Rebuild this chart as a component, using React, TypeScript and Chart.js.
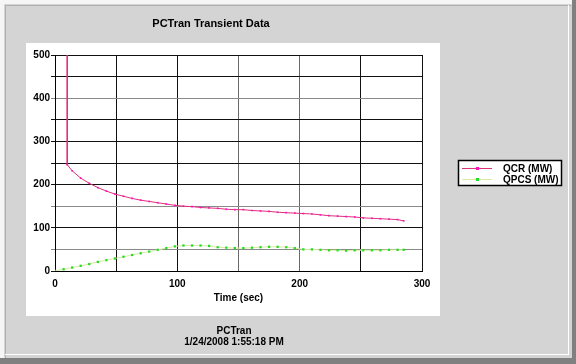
import React, { useEffect, useRef } from "react";
import { Chart, registerables } from "chart.js";

Chart.register(...registerables);

const chartTitle = "PCTran Transient Data";
const xAxisTitle = "Time (sec)";
const footerLines = ["PCTran", "1/24/2008 1:55:18 PM"];
const seriesNames = ["QCR (MW)", "QPCS (MW)"];

const qcrTime = [10, 10, 14, 21, 28, 35, 42, 49, 56, 63, 70, 77, 84, 91, 98, 105, 112, 119, 126, 133, 140, 147, 154, 161, 168, 175, 182, 189, 196, 203, 210, 217, 224, 231, 238, 245, 252, 259, 266, 273, 280, 285];
const qcrValues = [3000, 246, 232, 215, 203, 193, 185, 178, 173, 168, 164, 161, 158, 155, 152, 150, 149, 147, 146, 145, 143, 142, 142, 140, 139, 138, 136, 135, 134, 133, 132, 130, 128, 127, 126, 125, 123, 122, 121, 120, 119, 116];

const qpcsTime = [0, 7, 14, 21, 28, 35, 42, 49, 56, 63, 70, 77, 84, 91, 98, 105, 112, 119, 126, 133, 140, 147, 154, 161, 168, 175, 182, 189, 196, 203, 210, 217, 224, 231, 238, 245, 252, 259, 266, 273, 280, 285];
const qpcsValues = [0, 4, 8, 12, 16, 21, 25, 29, 33, 37, 41, 45, 49, 53, 57, 59, 59, 59, 58, 55, 54, 53, 53, 54, 55, 56, 56, 55, 53, 50, 50, 49, 48, 48, 47, 48, 48, 48, 48, 49, 49, 49];

const xTicksLabelled = [0, 100, 200, 300];
const yTicksLabelled = [0, 100, 200, 300, 400, 500];

const QCR_LINE = "#e0307a";
const QCR_POINT = "#ff10c0";
const QPCS_LINE = "#d8eca0";
const QPCS_POINT = "#22dd22";
const FONT = "'Liberation Sans', Arial, sans-serif";

const framePlugin = {
  id: "frame",
  beforeDraw(chart: any) {
    const ctx = chart.ctx;
    const W = chart.width;
    const H = chart.height;
    ctx.save();
    ctx.fillStyle = "#d4d4d4";
    ctx.fillRect(0, 0, W, H);
    ctx.fillStyle = "#f6f6f6";
    ctx.fillRect(0, 0, W, 4);
    ctx.fillRect(0, 0, 4, H);
    ctx.fillStyle = "#b0b0b0";
    ctx.fillRect(5, 5, W - 10, 1);
    ctx.fillRect(5, 5, 1, H - 10);
    ctx.fillStyle = "#ffffff";
    ctx.fillRect(568, 5, 1, 350);
    ctx.fillRect(5, 354, 564, 1);
    ctx.fillStyle = "#808080";
    ctx.fillRect(0, 358, W, H - 358);
    ctx.fillRect(572, 0, W - 572, H);
    // white chart panel
    ctx.fillStyle = "#ffffff";
    ctx.fillRect(26, 43, 414, 273);
    ctx.restore();
  },
  afterDraw(chart: any) {
    const ctx = chart.ctx;
    ctx.save();
    ctx.fillStyle = "#000";
    ctx.textAlign = "center";
    ctx.textBaseline = "middle";
    ctx.font = `bold 11px ${FONT}`;
    ctx.fillText(chartTitle, 211, 24);
    ctx.font = `bold 10px ${FONT}`;
    const area = chart.chartArea;
    ctx.fillText(xAxisTitle, (area.left + area.right) / 2, 298);
    ctx.font = `bold 10px ${FONT}`;
    ctx.fillText(footerLines[0], 234, 331);
    ctx.fillText(footerLines[1], 234, 342);

    // legend
    const lx = 458, ly = 160, lw = 103, lh = 25;
    ctx.fillStyle = "#fff";
    ctx.fillRect(lx, ly, lw, lh);
    ctx.strokeStyle = "#000";
    ctx.lineWidth = 1.5;
    ctx.strokeRect(lx + 0.5, ly + 0.5, lw, lh);
    const rows = [
      { y: 168, line: QCR_LINE, pt: QCR_POINT, name: seriesNames[0] },
      { y: 179, line: QPCS_LINE, pt: QPCS_POINT, name: seriesNames[1] },
    ];
    rows.forEach((r) => {
      ctx.strokeStyle = r.line;
      ctx.lineWidth = 1;
      ctx.beginPath();
      ctx.moveTo(462, r.y + 0.5);
      ctx.lineTo(492, r.y + 0.5);
      ctx.stroke();
      ctx.fillStyle = r.pt;
      ctx.fillRect(476, r.y - 1, 3, 3);
      ctx.fillStyle = "#000";
      ctx.textAlign = "left";
      ctx.font = `bold 10px ${FONT}`;
      ctx.fillText(r.name, 503, r.y + 1);
    });
    ctx.restore();
  },
};

export default function App() {
  const ref = useRef<HTMLCanvasElement>(null);
  useEffect(() => {
    document.body.style.margin = "0";
    const canvas = ref.current!;
    const chart = new Chart(canvas, {
      type: "line",
      data: {
        datasets: [
          {
            label: seriesNames[0],
            data: qcrTime.map((t, i) => ({ x: t, y: qcrValues[i] })),
            borderColor: QCR_LINE,
            backgroundColor: QCR_POINT,
            pointBackgroundColor: QCR_POINT,
            pointBorderColor: QCR_POINT,
            borderWidth: 1,
            pointRadius: 1.2,
            pointBorderWidth: 0,
            pointStyle: "rect",
            tension: 0,
          },
          {
            label: seriesNames[1],
            data: qpcsTime.map((t, i) => ({ x: t, y: qpcsValues[i] })),
            borderColor: QPCS_LINE,
            backgroundColor: QPCS_POINT,
            pointBackgroundColor: QPCS_POINT,
            pointBorderColor: QPCS_POINT,
            borderWidth: 1,
            pointRadius: 1.6,
            pointBorderWidth: 0,
            pointStyle: "rect",
            tension: 0,
          },
        ],
      },
      options: {
        responsive: false,
        animation: false,
        layout: { padding: { left: 26, top: 55, right: 154, bottom: 63 } },
        plugins: { legend: { display: false }, title: { display: false }, tooltip: { enabled: false } },
        scales: {
          x: {
            type: "linear",
            min: 0,
            max: 300,
            afterFit: (s: any) => { s.height = 30; },
            ticks: {
              stepSize: 50,
              padding: 7,
              color: "#000",
              font: { family: FONT, size: 10, weight: "bold" },
              callback: (v: any) => (xTicksLabelled.includes(v) ? String(v) : ""),
            },
            grid: {
              drawTicks: false,
              lineWidth: 1,
              color: (c: any) => (c.tick && (c.tick.value === 150 || c.tick.value === 200) ? "#6a6a6a" : "#111"),
            },
            border: { color: "#000", width: 1 },
          },
          y: {
            type: "linear",
            min: 0,
            max: 500,
            afterFit: (s: any) => { s.width = 29; },
            ticks: {
              stepSize: 50,
              padding: 1,
              color: "#000",
              font: { family: FONT, size: 10, weight: "bold" },
              callback: (v: any) => (yTicksLabelled.includes(v) ? String(v) : ""),
            },
            grid: {
              tickLength: 4,
              lineWidth: 1,
              color: (c: any) => (c.tick && [50, 150, 400].includes(c.tick.value) ? "#8a8a8a" : "#111"),
            },
            border: { color: "#000", width: 1 },
          },
        },
      },
      plugins: [framePlugin],
    });
    return () => chart.destroy();
  }, []);
  return (
    <div style={{ width: 576, height: 364 }}>
      <canvas ref={ref} width={576} height={364} style={{ display: "block" }} />
    </div>
  );
}
